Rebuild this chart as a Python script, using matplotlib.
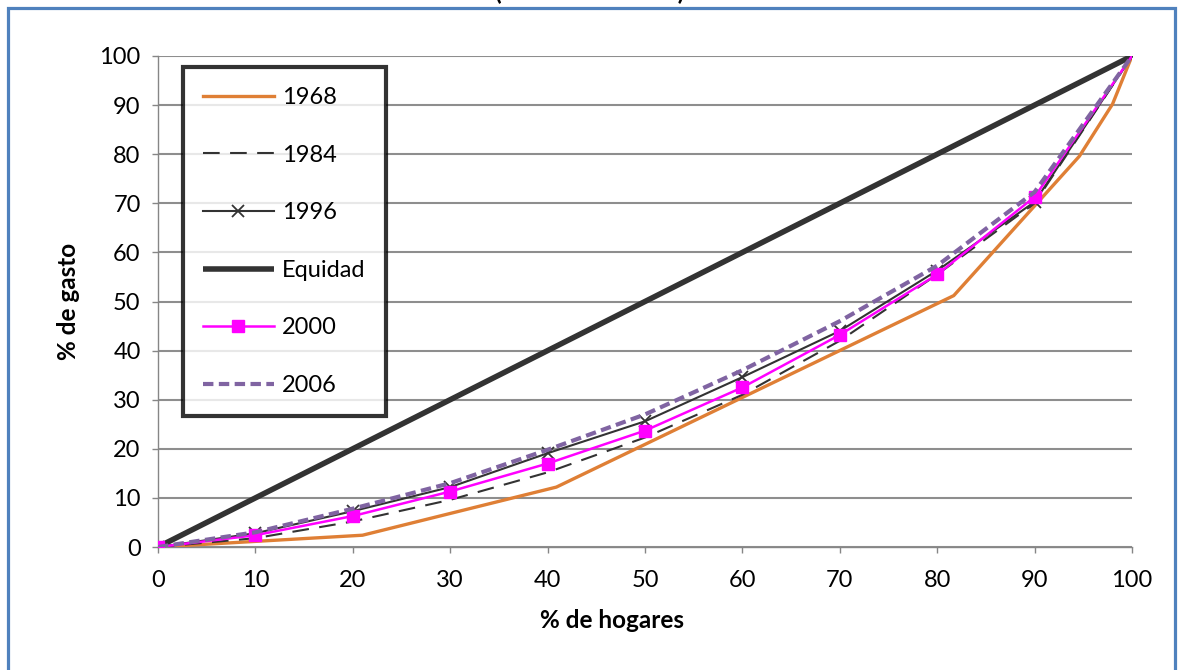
import matplotlib
matplotlib.use("Agg")
import matplotlib.pyplot as plt
from matplotlib.patches import Rectangle

plt.rcParams['font.family'] = ['Lato', 'DejaVu Sans']

# Lorenz curves: cumulative % of spending by cumulative % of households
deciles = [0, 10, 20, 30, 40, 50, 60, 70, 80, 90, 100]
x1968 = [0, 21, 40.9, 81.7, 94.6, 98, 100]
y1968 = [0, 2.4, 12.2, 51.2, 79.6, 90.2, 100]
y1984 = [0, 1.8, 5.2, 9.6, 15.2, 22.3, 31.0, 42.0, 55.5, 70.0, 100]
y1996 = [0, 2.8, 7.3, 12.2, 19.1, 25.6, 34.6, 44.0, 56.3, 70.3, 100]
y2000 = [0, 2.4, 6.3, 11.3, 17.0, 23.7, 32.5, 43.2, 55.5, 71.3, 100]
y2006 = [0, 3.0, 7.8, 13.0, 19.8, 27.0, 36.0, 46.0, 57.3, 72.3, 100]
x_equity = [0, 100]
y_equity = [0, 100]
ticks = [0, 10, 20, 30, 40, 50, 60, 70, 80, 90, 100]

W, H = 1180, 670
fig = plt.figure(figsize=(W / 100, H / 100), dpi=100)


def fx(px):
    return px / W


def fy(py):
    return 1 - py / H


ax = fig.add_axes([fx(158), fy(547), fx(1132) - fx(158), fy(56) - fy(547)])

ax.plot(x1968, y1968, color='#DF7F35', lw=2.4, label='1968', zorder=3)
ax.plot(deciles, y1984, color='#333333', lw=1.5, dashes=(8, 5), label='1984', zorder=4)
ax.plot(deciles, y1996, color='#333333', lw=1.5, marker='x', markersize=8,
        markeredgewidth=1.3, label='1996', zorder=5)
ax.plot(x_equity, y_equity, color='#333333', lw=4, solid_capstyle='butt',
        label='Equidad', zorder=6)
ax.plot(deciles, y2000, color='#FF00FF', lw=1.8, marker='s', markersize=9,
        markevery=slice(0, 10), label='2000', zorder=7)
ax.plot(deciles, y2006, color='#8064A2', lw=3, dashes=(2.5, 1.3), label='2006', zorder=8)

ax.set_xlim(0, 100)
ax.set_ylim(0, 100)
ax.set_xticks(ticks)
ax.set_yticks(ticks)
ax.tick_params(axis='both', labelsize=17, length=4.5, width=1, color='#868686',
               direction='out', labelcolor='black')
ax.tick_params(axis='x', pad=12)
ax.tick_params(axis='y', pad=8)
ax.yaxis.grid(True, color='#8E8E8E', lw=1.5)
ax.set_axisbelow(True)
for side in ('top', 'right'):
    ax.spines[side].set_visible(False)
for side in ('left', 'bottom'):
    ax.spines[side].set_color('#868686')
    ax.spines[side].set_linewidth(1)

leg = ax.legend(loc='upper left', bbox_to_anchor=(fx(183), fy(67)),
                bbox_transform=fig.transFigure, fontsize=17, frameon=True,
                fancybox=False, edgecolor='black', handlelength=3.0,
                handletextpad=0.34, labelspacing=1.55, borderpad=0.85,
                borderaxespad=0)
leg.get_frame().set_linewidth(3)
leg.set_zorder(10)

fig.text(fx(612), fy(620), '% de hogares', ha='center', va='center',
         fontsize=17.5, fontweight='bold')
fig.text(fx(68), fy(301), '% de gasto', ha='center', va='center',
         rotation=90, fontsize=17.5, fontweight='bold')
fig.text(fx(590), fy(0.5), '(Curva de Lorenz)', ha='center', va='baseline',
         fontsize=17.5, fontweight='bold')

# chart area border
fig.patches.append(Rectangle((fx(7.5), fy(700)), fx(1175) - fx(7.5), fy(8) - fy(700),
                             transform=fig.transFigure, fill=False,
                             edgecolor='#4F81BD', lw=2.3))

fig.savefig('out.png', dpi=100, facecolor='white')
